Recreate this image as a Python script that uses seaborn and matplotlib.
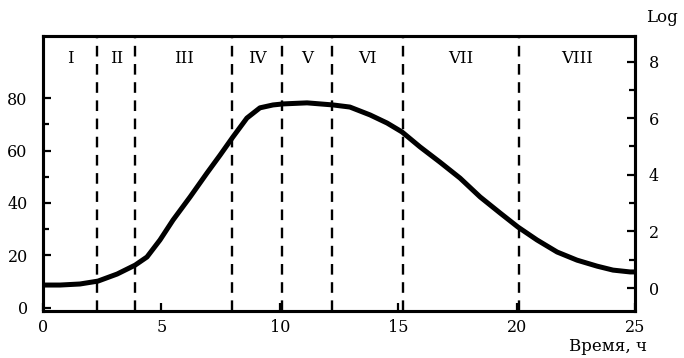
import numpy as np
import pandas as pd
import seaborn as sns
import matplotlib
matplotlib.use("Agg")
import matplotlib.pyplot as plt
from matplotlib.ticker import FixedLocator

# curve (time in hours, value on the left scale)
time_h = [0.0, 0.72, 1.56, 2.32, 3.13, 3.89, 4.39, 4.94, 5.49, 6.21, 6.93,
          7.48, 8.02, 8.61, 9.16, 9.71, 10.14, 11.15, 12.25, 12.96, 13.81,
          14.53, 15.16, 15.92, 16.76, 17.61, 18.46, 19.30, 20.06, 20.86,
          21.71, 22.55, 23.40, 24.07, 24.79, 25.0]
value = [8.7, 8.7, 9.1, 10.2, 12.9, 16.3, 19.4, 25.9, 33.5, 42.3, 51.5,
         58.3, 65.2, 72.4, 76.3, 77.4, 77.8, 78.2, 77.4, 76.6, 73.6,
         70.5, 67.1, 61.4, 55.6, 49.5, 42.3, 36.2, 30.8, 25.9,
         21.3, 18.2, 15.9, 14.4, 13.7, 13.7]

# phase borders and names
borders = [2.3, 3.9, 8.0, 10.1, 12.2, 15.2, 20.1]
phases = ["I", "II", "III", "IV", "V", "VI", "VII", "VIII"]

left_ticks = [0, 20, 40, 60, 80]
left_minor = [30, 50, 70]
right_ticks = [0, 2, 4, 6, 8]
right_minor = [1, 3, 5, 7]
x_ticks = [0, 5, 10, 15, 20, 25]

sns.set_style("ticks")
plt.rcParams['font.family'] = ['DejaVu Serif']
for k in ("text.color", "axes.labelcolor", "xtick.color", "ytick.color", "axes.edgecolor"):
    plt.rcParams[k] = "black"
fs = 12
tfs = 11.5

df = pd.DataFrame({"t": time_h, "v": value})

fig = plt.figure(figsize=(6.84, 3.58), dpi=100)
ax = fig.add_axes([0.0629, 0.1313, 0.8655, 0.7681])

sns.lineplot(data=df, x="t", y="v", ax=ax, color="black", linewidth=3.6,
             solid_capstyle="round")

for b in borders:
    ax.axvline(b, color="black", linewidth=1.7, linestyle=(0, (4.5, 3.2)))

edges = [0] + borders + [25]
for i, name in enumerate(phases):
    ax.text((edges[i] + edges[i + 1]) / 2, 0.918, name, transform=ax.get_xaxis_transform(),
            ha="center", va="center", fontsize=fs)

ax.set_xlim(0, 25)
ax.set_ylim(-1.2, 103.7)
ax.set_xticks(x_ticks)
ax.set_yticks(left_ticks)
ax.yaxis.set_minor_locator(FixedLocator(left_minor))
ax.set_xlabel("")
ax.set_ylabel("")
ax.tick_params(axis="x", direction="in", length=6, width=1.6, pad=6, labelsize=tfs)
ax.tick_params(axis="y", which="major", direction="in", length=6, width=1.6, pad=11, labelsize=tfs)
ax.tick_params(axis="y", which="minor", direction="in", length=4, width=1.6)

ax2 = ax.twinx()
ax2.set_ylim(-0.81, 8.9)
ax2.set_yticks(right_ticks)
ax2.yaxis.set_minor_locator(FixedLocator(right_minor))
ax2.tick_params(axis="y", which="major", direction="in", length=6, width=1.6, pad=10, labelsize=tfs)
ax2.tick_params(axis="y", which="minor", direction="in", length=4, width=1.6)

for a in (ax, ax2):
    for s in a.spines.values():
        s.set_linewidth(2.2)
        s.set_color("black")
        s.set_visible(True)

ax.text(1.046, 1.051, "Log", transform=ax.transAxes, ha="center", va="baseline", fontsize=fs)
ax.text(1.02, -0.146, "Время, ч", transform=ax.transAxes, ha="right", va="baseline", fontsize=fs)

fig.savefig("out.png", dpi=100)
